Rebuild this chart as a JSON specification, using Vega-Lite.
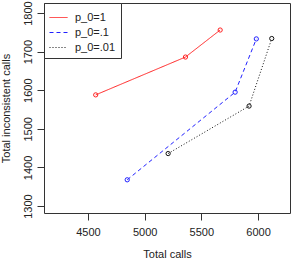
{
  "$schema": "https://vega.github.io/schema/vega-lite/v6.json",
  "width": 246,
  "height": 210,
  "autosize": {"type": "none"},
  "padding": {"left": 44, "top": 3, "right": 1, "bottom": 48},
  "background": "white",
  "config": {
    "font": "Liberation Sans",
    "view": {"stroke": "#333", "strokeWidth": 1},
    "axis": {
      "grid": false,
      "domain": false,
      "tickColor": "#333",
      "tickSize": 7,
      "labelFontSize": 11,
      "labelColor": "#222",
      "titleFontSize": 11,
      "titleFontWeight": "normal",
      "titleColor": "#222"
    }
  },
  "data": {
    "values": [
      {"calls": 4568, "inconsistent": 1588, "p": "p_0=1"},
      {"calls": 5360, "inconsistent": 1686, "p": "p_0=1"},
      {"calls": 5666, "inconsistent": 1756, "p": "p_0=1"},
      {"calls": 4846, "inconsistent": 1368, "p": "p_0=.1"},
      {"calls": 5798, "inconsistent": 1595, "p": "p_0=.1"},
      {"calls": 5985, "inconsistent": 1733, "p": "p_0=.1"},
      {"calls": 5207, "inconsistent": 1436, "p": "p_0=.01"},
      {"calls": 5921, "inconsistent": 1559, "p": "p_0=.01"},
      {"calls": 6121, "inconsistent": 1734, "p": "p_0=.01"}
    ]
  },
  "encoding": {
    "x": {
      "field": "calls", "type": "quantitative",
      "scale": {"domain": [4112, 6282], "nice": false, "zero": false},
      "axis": {"values": [4500, 5000, 5500, 6000], "title": "Total calls", "labelPadding": 6, "titlePadding": 11, "format": "d"}
    },
    "y": {
      "field": "inconsistent", "type": "quantitative",
      "scale": {"domain": [1282, 1826], "nice": false, "zero": false},
      "axis": {"values": [1300, 1400, 1500, 1600, 1700, 1800], "title": "Total inconsistent calls", "labelAngle": -90, "labelAlign": "center", "labelBaseline": "bottom", "labelPadding": 4, "titlePadding": 11, "format": "d"}
    },
    "color": {
      "field": "p", "type": "nominal",
      "scale": {"domain": ["p_0=1", "p_0=.1", "p_0=.01"], "range": ["#ff2020", "#2020ff", "#111111"]},
      "legend": {
        "title": null, "orient": "top-left", "offset": 0,
        "strokeColor": "#333", "fillColor": "white",
        "padding": 5, "labelFontSize": 11, "labelColor": "#222",
        "symbolType": "stroke", "symbolSize": 324, "symbolStrokeWidth": 1,
        "rowPadding": -0.5, "labelOffset": 7
      }
    }
  },
  "layer": [
    {
      "mark": {"type": "line", "strokeWidth": 1},
      "encoding": {
        "strokeDash": {
          "field": "p", "type": "nominal",
          "scale": {"domain": ["p_0=1", "p_0=.1", "p_0=.01"], "range": [[1, 0], [4, 3], [1, 2]]},
          "legend": {"title": null}
        }
      }
    },
    {
      "mark": {"type": "point", "size": 18, "strokeWidth": 1, "filled": false, "opacity": 1}
    }
  ]
}
